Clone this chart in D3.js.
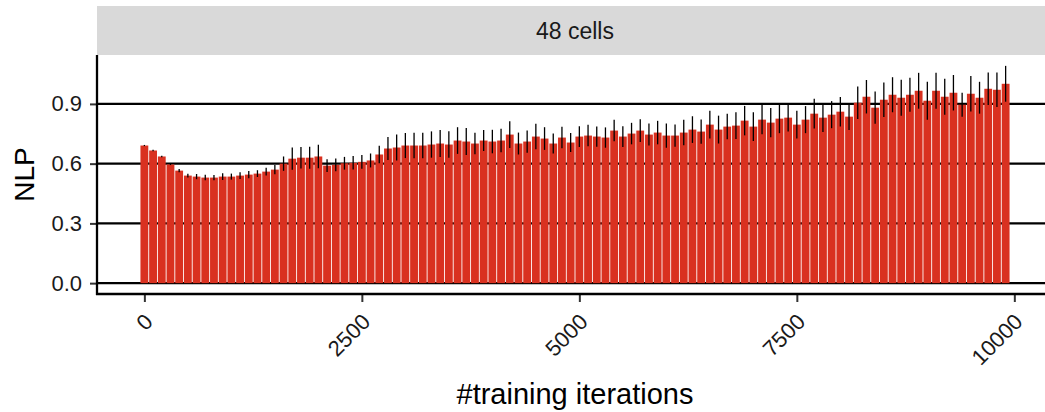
<!DOCTYPE html>
<html>
<head>
<meta charset="utf-8">
<script src="https://cdn.jsdelivr.net/npm/d3@7"></script>
<style>
  body { margin: 0; background: #fff; }
  svg { display: block; font-family: "Liberation Sans", Arial, sans-serif; }
</style>
</head>
<body>
<svg id="chart" width="1045" height="412"></svg>
<script>
// training iterations, one bar every 100 steps
const iterations = d3.range(0, 10000, 100);

// mean NLP per checkpoint
const nlp = [
  0.691, 0.666, 0.636, 0.596, 0.565, 0.540, 0.535, 0.530, 0.530, 0.535,
  0.535, 0.540, 0.545, 0.550, 0.560, 0.570, 0.600, 0.625, 0.630, 0.630,
  0.636, 0.590, 0.594, 0.602, 0.604, 0.609, 0.616, 0.646, 0.676, 0.681,
  0.691, 0.691, 0.691, 0.696, 0.701, 0.696, 0.716, 0.711, 0.701, 0.716,
  0.711, 0.716, 0.746, 0.701, 0.711, 0.736, 0.726, 0.701, 0.731, 0.706,
  0.736, 0.741, 0.736, 0.731, 0.766, 0.736, 0.751, 0.766, 0.746, 0.756,
  0.741, 0.741, 0.756, 0.771, 0.761, 0.796, 0.771, 0.786, 0.791, 0.816,
  0.786, 0.821, 0.806, 0.826, 0.831, 0.796, 0.821, 0.851, 0.831, 0.846,
  0.861, 0.836, 0.906, 0.936, 0.881, 0.921, 0.946, 0.931, 0.946, 0.966,
  0.916, 0.966, 0.936, 0.956, 0.896, 0.951, 0.931, 0.976, 0.971, 1.001
];

// half width of the error bars
const nlpErr = [
  0.003, 0.004, 0.004, 0.003, 0.008, 0.009, 0.013, 0.014, 0.013, 0.017,
  0.015, 0.017, 0.018, 0.017, 0.020, 0.023, 0.036, 0.056, 0.054, 0.055,
  0.059, 0.032, 0.032, 0.032, 0.034, 0.035, 0.035, 0.044, 0.058, 0.065,
  0.063, 0.064, 0.064, 0.066, 0.068, 0.067, 0.067, 0.068, 0.054, 0.053,
  0.059, 0.059, 0.067, 0.055, 0.056, 0.064, 0.057, 0.050, 0.054, 0.048,
  0.052, 0.054, 0.051, 0.051, 0.054, 0.052, 0.054, 0.057, 0.055, 0.059,
  0.061, 0.056, 0.064, 0.067, 0.061, 0.070, 0.070, 0.064, 0.067, 0.074,
  0.072, 0.073, 0.073, 0.073, 0.070, 0.070, 0.068, 0.075, 0.072, 0.068,
  0.074, 0.067, 0.082, 0.084, 0.081, 0.087, 0.088, 0.090, 0.085, 0.090,
  0.095, 0.090, 0.090, 0.089, 0.060, 0.089, 0.080, 0.082, 0.087, 0.090
];

const yTicks = [0, 0.3, 0.6, 0.9];
const xTicks = [0, 2500, 5000, 7500, 10000];
const panelLabel = "48 cells";

const data = iterations.map((it, i) => ({ it: it, y: nlp[i], lo: nlp[i] - nlpErr[i], hi: nlp[i] + nlpErr[i] }));

const svg = d3.select("#chart");
const pLeft = 97, pRight = 1053, pTop = 55, pBottom = 294;
const barW = 90; // bar width in iteration units

// ggplot style 5% expansion
let xMin = d3.min(iterations) - barW / 2, xMax = d3.max(iterations) + barW / 2;
let xPad = (xMax - xMin) * 0.05;
const x = d3.scaleLinear().domain([xMin - xPad, xMax + xPad]).range([pLeft, pRight]);

let yMax = d3.max(data, d => d.hi), yPad = yMax * 0.05;
const y = d3.scaleLinear().domain([-yPad, yMax + yPad]).range([pBottom, pTop]);

// strip on top
svg.append("rect")
  .attr("x", pLeft).attr("y", 6)
  .attr("width", pRight - pLeft).attr("height", pTop - 6)
  .attr("fill", "#d9d9d9");
svg.append("text")
  .attr("x", (pLeft + pRight) / 2).attr("y", 31)
  .attr("text-anchor", "middle").attr("dy", "0.35em")
  .attr("font-size", 23).attr("fill", "#1a1a1a")
  .text(panelLabel);

// horizontal grid lines (behind the bars)
svg.append("g")
  .selectAll("line")
  .data(yTicks)
  .enter().append("line")
    .attr("x1", pLeft).attr("x2", pRight)
    .attr("y1", d => y(d)).attr("y2", d => y(d))
    .attr("stroke", "#000").attr("stroke-width", 2.3);

// bars
svg.append("g")
  .selectAll("rect")
  .data(data)
  .enter().append("rect")
    .attr("x", d => x(d.it - barW / 2))
    .attr("width", d => x(d.it + barW / 2) - x(d.it - barW / 2))
    .attr("y", d => y(d.y))
    .attr("height", d => y(0) - y(d.y))
    .attr("fill", "#d93120");

// error bars
svg.append("g")
  .selectAll("line")
  .data(data)
  .enter().append("line")
    .attr("x1", d => x(d.it)).attr("x2", d => x(d.it))
    .attr("y1", d => y(d.lo)).attr("y2", d => y(d.hi))
    .attr("stroke", "#000").attr("stroke-width", 1.3);

// axes
let yAxis = svg.append("g")
  .attr("transform", `translate(${pLeft},0)`)
  .call(d3.axisLeft(y).tickValues(yTicks).tickFormat(d3.format(".1f")).tickSize(7).tickPadding(8));
let xAxis = svg.append("g")
  .attr("transform", `translate(0,${pBottom})`)
  .call(d3.axisBottom(x).tickValues(xTicks).tickFormat(d3.format("d")).tickSize(8));

[yAxis, xAxis].forEach(a => {
  a.select(".domain").remove();
  a.selectAll(".tick line").attr("stroke", "#333").attr("stroke-width", 2);
  a.selectAll("text").attr("fill", "#1a1a1a").attr("font-size", 22).attr("font-family", null);
});

// rotated x labels: top-right corner sits under the tick
xAxis.selectAll(".tick text")
  .attr("text-anchor", "end")
  .attr("y", 0).attr("dy", "0.72em")
  .attr("transform", "translate(-2,18) rotate(-45)");

// axis lines
svg.append("line")
  .attr("x1", pLeft).attr("x2", pLeft).attr("y1", pTop).attr("y2", pBottom + 1)
  .attr("stroke", "#000").attr("stroke-width", 2.3);
svg.append("line")
  .attr("x1", pLeft - 1).attr("x2", pRight).attr("y1", pBottom).attr("y2", pBottom)
  .attr("stroke", "#000").attr("stroke-width", 2.3);

// axis titles
svg.append("text")
  .attr("transform", `translate(34,${(pTop + pBottom) / 2}) rotate(-90)`)
  .attr("text-anchor", "middle")
  .attr("font-size", 28).attr("fill", "#000")
  .text("NLP");
svg.append("text")
  .attr("x", (pLeft + pRight) / 2).attr("y", 404)
  .attr("text-anchor", "middle")
  .attr("font-size", 29).attr("fill", "#000")
  .text("#training iterations");
</script>
</body>
</html>
